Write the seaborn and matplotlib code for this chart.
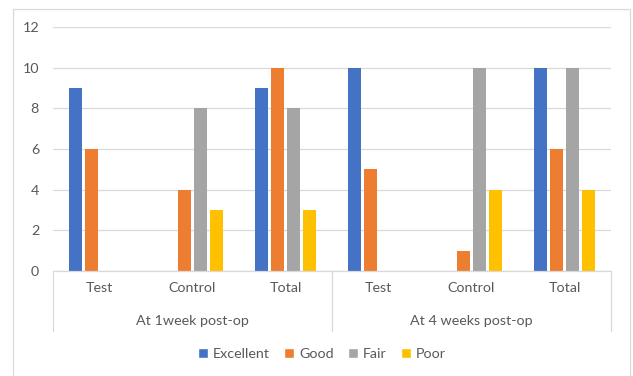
import matplotlib
matplotlib.use("Agg")
import matplotlib.pyplot as plt
import matplotlib.patches as mpatches
import matplotlib.transforms as mtrans
import seaborn as sns
import pandas as pd

periods = ["At 1week post-op", "At 4 weeks post-op"]
groups = ["Test", "Control", "Total"]
ratings = ["Excellent", "Good", "Fair", "Poor"]
excellent = [9, 0, 9, 10, 0, 10]
good = [6, 4, 10, 5, 1, 6]
fair = [0, 8, 8, 0, 10, 10]
poor = [0, 3, 3, 0, 4, 4]
colors = ["#4472C4", "#ED7D31", "#A5A5A5", "#FFC000"]
yticks = [0, 2, 4, 6, 8, 10, 12]

rows = []
for pi, p in enumerate(periods):
    for gi, g in enumerate(groups):
        idx = pi * 3 + gi
        for r, vals in zip(ratings, [excellent, good, fair, poor]):
            rows.append({"cat": f"{p}|{g}", "rating": r, "value": vals[idx]})
df = pd.DataFrame(rows)
order = [f"{p}|{g}" for p in periods for g in groups]

sns.set_style("white")
plt.rcParams["font.family"] = ["Lato", "DejaVu Sans"]
txt = "#595959"
grid_c = "#D9D9D9"
fs = 10.3

fig = plt.figure(figsize=(6.33, 3.76), dpi=100)
W, H = 633, 376
# chart border
fig.patches.append(mpatches.Rectangle((13 / W, -0.01), (630 - 13) / W, 1 - 9 / H + 0.01,
                                      transform=fig.transFigure, fill=False,
                                      edgecolor="#D9D9D9", linewidth=0.9))
ax = fig.add_axes([53 / W, 1 - 271 / H, (611 - 53) / W, (271 - 27) / H])

sns.barplot(data=df, x="cat", y="value", hue="rating", order=order, hue_order=ratings,
            palette=colors, width=0.69, gap=0.2, ax=ax, legend=False,
            saturation=1, errorbar=None, linewidth=0)

ax.set_ylim(0, 12)
ax.set_xlim(-0.5, 5.5)
ax.set_yticks(yticks)
ax.set_yticklabels([str(t) for t in yticks], color=txt, fontsize=fs)
ax.yaxis.grid(True, color=grid_c, linewidth=0.9)
ax.set_axisbelow(True)
for s in ["left", "right", "top"]:
    ax.spines[s].set_visible(False)
ax.spines["bottom"].set_color(grid_c)
ax.spines["bottom"].set_linewidth(0.9)
ax.tick_params(axis="y", length=0, pad=10)
ax.tick_params(axis="x", length=0, pad=8)
ax.set_xticks(range(6))
ax.set_xticklabels([g for p in periods for g in groups], color=txt, fontsize=fs)
ax.set_xlabel("")
ax.set_ylabel("")

# group separators and labels
trans = mtrans.blended_transform_factory(ax.transData, fig.transFigure)
y_top = 1 - 271 / H
y_bot = 1 - 331 / H
for xpos in [-0.5, 2.5, 5.5]:
    ax.plot([xpos, xpos], [y_top, y_bot], transform=trans, color=grid_c,
            linewidth=0.9, clip_on=False)
for pi, p in enumerate(periods):
    ax.text(pi * 3 + 1, 1 - 321 / H, p, transform=trans, ha="center", va="center",
            color=txt, fontsize=fs)

handles = [mpatches.Patch(facecolor=c, label=r) for c, r in zip(colors, ratings)]
fig.legend(handles=handles, loc="center", bbox_to_anchor=(322 / W, 1 - 354 / H),
           ncol=4, frameon=False, fontsize=fs, labelcolor=txt,
           handlelength=0.7, handleheight=0.7, handletextpad=0.35, columnspacing=1.0)

fig.savefig("out.png", dpi=100)
